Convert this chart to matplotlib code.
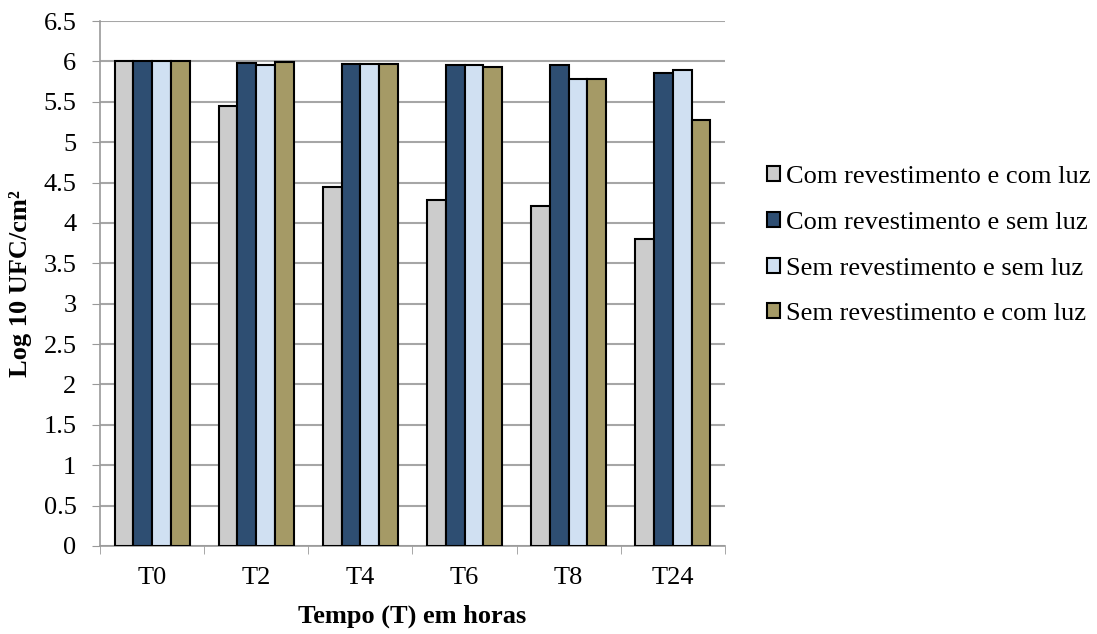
import matplotlib.pyplot as plt
import numpy as np

plt.rcParams['font.family'] = ['Liberation Serif', 'DejaVu Serif']

tempos = ["T0", "T2", "T4", "T6", "T8", "T24"]
series = [
    "Com revestimento e com luz",
    "Com revestimento e sem luz",
    "Sem revestimento e sem luz",
    "Sem revestimento e com luz",
]
com_rev_com_luz = [6.0, 5.45, 4.44, 4.28, 4.21, 3.80]
com_rev_sem_luz = [6.0, 5.98, 5.97, 5.96, 5.95, 5.86]
sem_rev_sem_luz = [6.0, 5.96, 5.97, 5.96, 5.78, 5.89]
sem_rev_com_luz = [6.0, 5.99, 5.97, 5.93, 5.78, 5.28]
cores = ["#cccccc", "#2e4e72", "#d0e0f2", "#a59a66"]

valores = [com_rev_com_luz, com_rev_sem_luz, sem_rev_sem_luz, sem_rev_com_luz]

fs = 19

fig = plt.figure(figsize=(10.97, 6.34), dpi=100)
ax = fig.add_axes([100 / 1097, 1 - 546 / 634, 625 / 1097, 525 / 634])

x = np.arange(len(tempos))
w = 0.18
for i, (nome, vals, cor) in enumerate(zip(series, valores, cores)):
    ax.bar(x + (i - 1.5) * w, vals, w, color=cor, edgecolor="black",
           linewidth=1.5, label=nome, zorder=3)

ax.set_xlim(-0.5, len(tempos) - 0.5)
ax.set_ylim(0, 6.5)
yt = np.arange(0, 6.51, 0.5)
ax.set_yticks(yt)
ax.set_yticklabels([f"{v:g}" for v in yt], fontsize=fs)
ax.set_xticks(x)
ax.set_xticklabels(tempos, fontsize=fs)
ax.set_xticks(np.arange(-0.5, len(tempos), 1), minor=True)
ax.tick_params(axis="x", which="major", length=0, pad=15)
ax.tick_params(axis="x", which="minor", length=6, color="#999999")
ax.tick_params(axis="y", length=6, color="#999999", pad=11)

ax.grid(axis="y", color="#a6a6a6", linewidth=1.5, zorder=0)
for s in ["top", "right"]:
    ax.spines[s].set_visible(False)
for s in ["left", "bottom"]:
    ax.spines[s].set_color("#999999")
    ax.spines[s].set_linewidth(1.2)

ax.set_xlabel("Tempo (T) em horas", fontsize=fs, fontweight="bold", labelpad=11)
ax.set_ylabel("Log 10 UFC/cm²", fontsize=fs, fontweight="bold", labelpad=8)

ax.legend(loc="center left", bbox_to_anchor=(1.067, 0.572), frameon=False,
          fontsize=fs, handlelength=0.5, handleheight=0.5, handletextpad=0.23,
          labelspacing=0.9, borderpad=0, borderaxespad=0)

fig.savefig("out.png", dpi=100)
